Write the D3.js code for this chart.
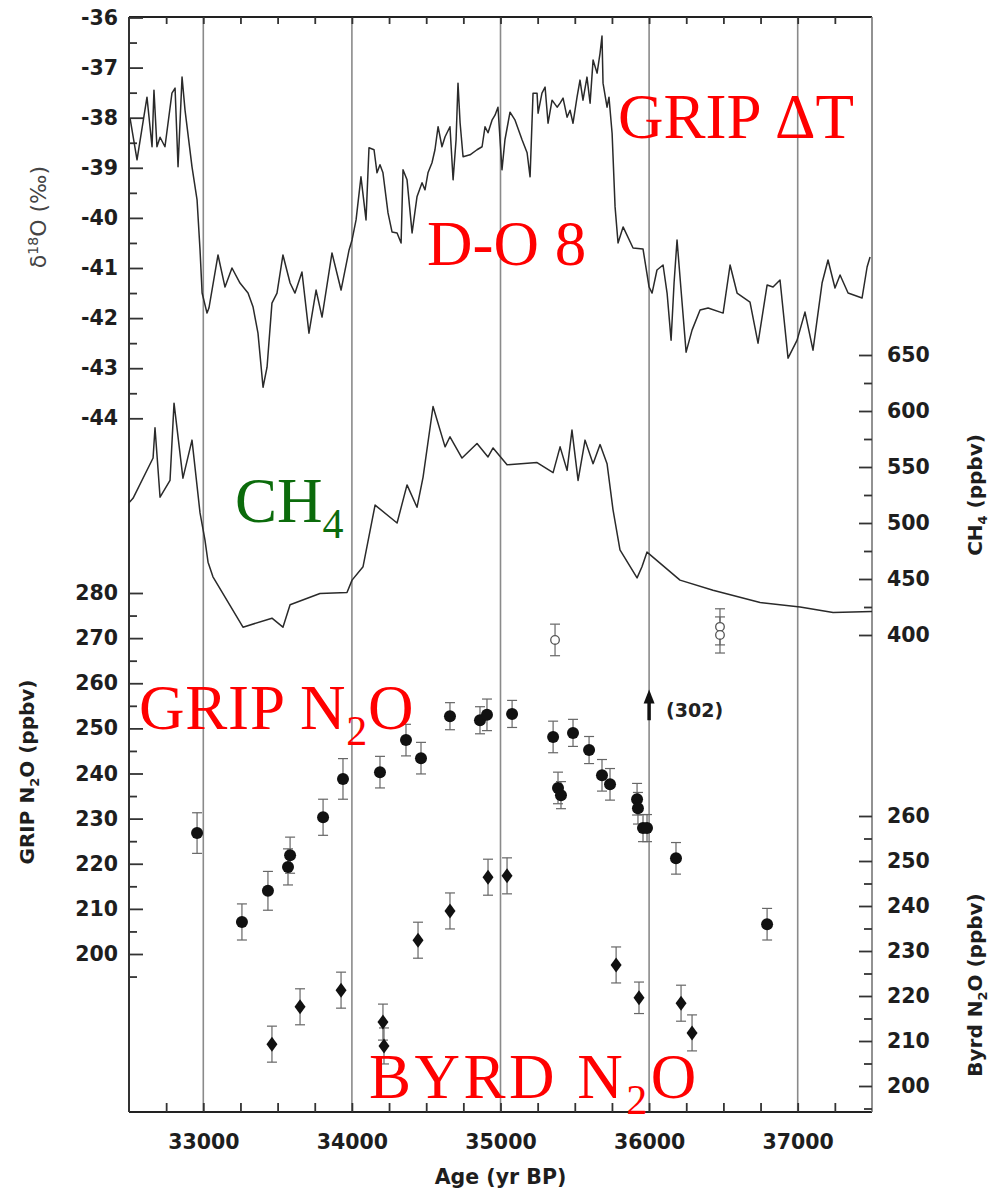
<!DOCTYPE html>
<html><head><meta charset="utf-8">
<script src="https://cdn.jsdelivr.net/npm/d3@7"></script>
<style>body{margin:0;background:#fff}svg{display:block}</style>
</head><body><svg id="c" width="991" height="1198"></svg>
<script>
// ---- data ----
const o18Age=[32507,32554,32621,32655,32668,32688,32709,32742,32789,32810,32830,32857,32877,32924,32958,32978,32992,33025,33038,33099,33146,33193,33247,33301,33335,33368,33402,33429,33462,33496,33536,33584,33617,33664,33711,33759,33799,33866,33927,33981,34001,34028,34061,34095,34115,34149,34169,34189,34209,34243,34270,34304,34331,34344,34371,34405,34438,34472,34492,34512,34539,34559,34580,34606,34627,34660,34681,34701,34714,34728,34748,34795,34842,34876,34896,34916,34943,34963,34983,35010,35030,35064,35098,35145,35179,35199,35219,35246,35253,35279,35300,35320,35347,35381,35401,35421,35448,35468,35488,35515,35535,35555,35582,35603,35623,35650,35670,35683,35690,35717,35730,35751,35771,35791,35825,35892,35959,36000,36020,36053,36094,36121,36148,36168,36188,36215,36249,36289,36343,36397,36498,36545,36592,36679,36733,36794,36834,36881,36935,36996,37049,37103,37164,37204,37251,37285,37339,37433,37467,37487];
const o18Val=[-38.01,-38.84,-37.59,-38.58,-37.45,-38.58,-38.39,-38.58,-37.51,-37.41,-38.98,-37.19,-37.85,-38.98,-39.64,-40.64,-41.50,-41.90,-41.80,-40.74,-41.38,-41.00,-41.30,-41.50,-41.78,-42.30,-43.38,-42.98,-41.70,-41.50,-40.74,-41.30,-41.50,-41.08,-42.30,-41.44,-41.98,-40.70,-41.44,-40.64,-40.44,-40.04,-39.18,-40.04,-38.60,-38.64,-39.10,-38.94,-39.10,-39.90,-40.28,-40.30,-40.50,-39.04,-39.24,-40.30,-39.58,-39.30,-39.44,-39.10,-38.90,-38.64,-38.18,-38.58,-38.38,-38.18,-39.24,-38.44,-37.31,-38.10,-38.78,-38.74,-38.64,-38.58,-38.18,-38.30,-38.05,-37.95,-37.79,-39.04,-38.44,-37.89,-38.05,-38.44,-38.70,-39.18,-37.51,-37.51,-37.91,-37.51,-37.39,-38.11,-37.65,-37.79,-37.71,-37.61,-37.99,-37.85,-38.11,-37.59,-37.25,-37.65,-37.19,-37.71,-36.85,-37.11,-36.71,-36.37,-37.31,-37.79,-37.59,-38.31,-39.78,-40.50,-40.18,-40.60,-40.62,-41.38,-41.50,-41.04,-40.94,-41.50,-42.44,-41.30,-40.44,-41.44,-42.68,-42.24,-41.84,-41.80,-41.90,-40.94,-41.50,-41.68,-42.50,-41.34,-41.38,-41.24,-42.80,-42.44,-41.88,-42.64,-41.30,-40.84,-41.40,-41.14,-41.50,-41.60,-40.98,-40.78];

const ch4Age=[32500,32527,32662,32675,32709,32776,32803,32863,32924,32978,33011,33032,33065,33267,33462,33536,33584,33785,33967,34001,34075,34156,34304,34371,34438,34479,34546,34627,34660,34741,34842,34916,34950,35044,35246,35354,35401,35448,35481,35522,35569,35623,35670,35717,35757,35804,35919,35952,35986,36208,36430,36747,37016,37238,37500];
const ch4Val=[518,522,558,585,523,538,607,540,574,509,485,465,452,407,415,407,427,437,438,449,461,516,500,534,514,541,604,568,577,558,571,559,567,552,554,545,568,547,583,538,574,553,570,553,512,476,451,461,474,449,440,429,425,420,421];

const gripAge=[32958,33260,33435,33570,33584,33806,33940,34189,34364,34465,34660,34862,34909,35078,35354,35387,35407,35488,35596,35683,35737,35919,35925,35959,35986,36181,36794];
const gripN2O=[226.8,207.1,214.0,219.3,221.9,230.3,238.8,240.3,247.4,243.4,252.7,251.8,253.0,253.2,248.1,236.8,235.2,249.0,245.2,239.6,237.6,234.3,232.3,227.9,227.9,221.2,206.6];
const gripErr=[4.5,4,4.3,4,4,4,4.5,3.5,3.5,3.5,3,3,3.5,3,3.5,3.5,3,3,3,3.5,3.5,3.5,3.5,3,3,3.5,3.5];

const openAge=[35367,36477,36477];
const openN2O=[269.6,272.5,270.7];
const openErr=[3.5,4,4];

const byrdAge=[33462,33651,33927,34209,34216,34445,34660,34916,35044,35778,35932,36215,36289];
const byrdN2O=[209.3,217.6,221.3,214.2,208.9,232.4,238.9,246.4,246.7,226.9,219.6,218.4,211.8];
const byrdErr=[4,4,4,4,4,4,4,4,4,4,3.5,4,4];

const ageTicks=[33000,34000,35000,36000,37000];
const o18Ticks=[-36,-37,-38,-39,-40,-41,-42,-43,-44];
const gripTicks=[280,270,260,250,240,230,220,210,200];
const ch4Ticks=[650,600,550,500,450,400];
const byrdTicks=[260,250,240,230,220,210,200];

// ---- scales ----
const L=129,R=872,T=17,B=1112;
const x=d3.scaleLinear().domain([32500,37500]).range([L,R]);
const yD=d3.scaleLinear().domain([-36,-44]).range([17.5,418.3]);
const yC=d3.scaleLinear().domain([650,400]).range([355,635]);
const yG=d3.scaleLinear().domain([280,200]).range([593,954]);
const yB=d3.scaleLinear().domain([260,200]).range([816,1086]);

const svg=d3.select("#c");
const FONT="'DejaVu Sans', sans-serif";
const plain=d=>String(d);

// vertical grid lines
svg.append("g").selectAll("line").data(ageTicks).join("line")
  .attr("x1",d=>x(d)).attr("x2",d=>x(d)).attr("y1",T).attr("y2",B)
  .attr("stroke","#8a8a8a").attr("stroke-width",1.6);

// frame
svg.append("line").attr("x1",L).attr("x2",R).attr("y1",T).attr("y2",T).attr("stroke","#222").attr("stroke-width",2);
svg.append("line").attr("x1",L).attr("x2",R).attr("y1",B).attr("y2",B).attr("stroke","#222").attr("stroke-width",2.2);
svg.append("line").attr("x1",L).attr("x2",L).attr("y1",T).attr("y2",B).attr("stroke","#333").attr("stroke-width",2);
svg.append("line").attr("x1",R).attr("x2",R).attr("y1",T).attr("y2",B).attr("stroke","#777").attr("stroke-width",1.6);

function styleAxis(g){
  g.select(".domain").remove();
  g.selectAll(".tick line").attr("stroke","#333").attr("stroke-width",1.8);
  g.selectAll("text").attr("font-family",FONT).attr("font-size",20.5).attr("font-weight","bold").attr("fill","#1e1e1e");
}
const range=(a,b,s)=>d3.range(a,b+s/2,s);

// bottom axis
svg.append("g").attr("transform",`translate(0,${B})`)
  .call(d3.axisBottom(x).tickValues(ageTicks).tickSize(0).tickPadding(22).tickFormat(plain))
  .call(styleAxis);
svg.append("g").attr("transform",`translate(0,${B})`)
  .call(d3.axisBottom(x).tickValues(range(32750,37250,250)).tickSize(-9).tickFormat(""))
  .call(styleAxis);
svg.append("g").attr("transform",`translate(0,${T})`)
  .call(d3.axisTop(x).tickValues(range(32750,37250,250)).tickSize(-7).tickFormat(""))
  .call(styleAxis);

// left delta axis
svg.append("g").attr("transform",`translate(${L},0)`)
  .call(d3.axisLeft(yD).tickValues(o18Ticks).tickSize(-14).tickPadding(11).tickFormat(plain))
  .call(styleAxis);
svg.append("g").attr("transform",`translate(${L},0)`)
  .call(d3.axisLeft(yD).tickValues(range(-43.5,-36.5,0.5).filter(v=>v%1!==0)).tickSize(-8).tickFormat(""))
  .call(styleAxis);
// left GRIP N2O axis
svg.append("g").attr("transform",`translate(${L},0)`)
  .call(d3.axisLeft(yG).tickValues(gripTicks).tickSize(-14).tickPadding(11).tickFormat(plain))
  .call(styleAxis);
svg.append("g").attr("transform",`translate(${L},0)`)
  .call(d3.axisLeft(yG).tickValues([275,265,255,245,235,225,215,205,195]).tickSize(-8).tickFormat(""))
  .call(styleAxis);
// right CH4 axis
svg.append("g").attr("transform",`translate(${R},0)`)
  .call(d3.axisRight(yC).tickValues(ch4Ticks).tickSize(-13).tickPadding(15).tickFormat(plain))
  .call(styleAxis);
svg.append("g").attr("transform",`translate(${R},0)`)
  .call(d3.axisRight(yC).tickValues([625,575,525,475,425]).tickSize(-8).tickFormat(""))
  .call(styleAxis);
// right Byrd axis
svg.append("g").attr("transform",`translate(${R},0)`)
  .call(d3.axisRight(yB).tickValues(byrdTicks).tickSize(-13).tickPadding(15).tickFormat(plain))
  .call(styleAxis);
svg.append("g").attr("transform",`translate(${R},0)`)
  .call(d3.axisRight(yB).tickValues([255,245,235,225,215,205,195]).tickSize(-8).tickFormat(""))
  .call(styleAxis);

// curves
const o18=o18Age.map((a,i)=>[a,o18Val[i]]);
svg.append("path").datum(o18).attr("fill","none").attr("stroke","#2a2a2a").attr("stroke-width",1.5)
  .attr("stroke-linejoin","round")
  .attr("d",d3.line().x(d=>x(d[0])).y(d=>yD(d[1])));
const ch4=ch4Age.map((a,i)=>[a,ch4Val[i]]);
svg.append("path").datum(ch4).attr("fill","none").attr("stroke","#2a2a2a").attr("stroke-width",1.5)
  .attr("stroke-linejoin","round")
  .attr("d",d3.line().x(d=>x(d[0])).y(d=>yC(d[1])));

// error bars helper
function errBars(ages,vals,errs,y){
  const g=svg.append("g").attr("stroke","#666").attr("stroke-width",1.2);
  ages.forEach((a,i)=>{
    const cx=x(a),t=y(vals[i]+errs[i]),b=y(vals[i]-errs[i]);
    g.append("line").attr("x1",cx).attr("x2",cx).attr("y1",t).attr("y2",b);
    g.append("line").attr("x1",cx-5).attr("x2",cx+5).attr("y1",t).attr("y2",t);
    g.append("line").attr("x1",cx-5).attr("x2",cx+5).attr("y1",b).attr("y2",b);
  });
}
errBars(gripAge,gripN2O,gripErr,yG);
errBars(openAge,openN2O,openErr,yG);
errBars(byrdAge,byrdN2O,byrdErr,yB);

svg.append("g").selectAll("circle").data(gripAge).join("circle")
  .attr("cx",d=>x(d)).attr("cy",(d,i)=>yG(gripN2O[i])).attr("r",6).attr("fill","#111");
svg.append("g").selectAll("circle").data(openAge).join("circle")
  .attr("cx",d=>x(d)).attr("cy",(d,i)=>yG(openN2O[i])).attr("r",4.3).attr("fill","#fff").attr("stroke","#555").attr("stroke-width",1.3);
svg.append("g").selectAll("path").data(byrdAge).join("path")
  .attr("transform",(d,i)=>`translate(${x(d)},${yB(byrdN2O[i])})`)
  .attr("d","M0,-7.5L5.5,0L0,7.5L-5.5,0Z").attr("fill","#111");

// arrow (302)
const ax=x(36000);
svg.append("line").attr("x1",ax).attr("x2",ax).attr("y1",yG(251.8)).attr("y2",yG(256.5)).attr("stroke","#111").attr("stroke-width",3.5);
svg.append("path").attr("d",`M${ax-5.5},${yG(255.5)}L${ax},${yG(258.6)}L${ax+5.5},${yG(255.5)}Z`).attr("fill","#111");
svg.append("text").attr("x",ax+17).attr("y",yG(254)+7).text("(302)")
  .attr("font-family",FONT).attr("font-size",19).attr("font-weight","bold").attr("fill","#222");

// axis titles
function vtitle(cx,cy,parts,weight,fill,size){
  const t=svg.append("text").attr("transform",`translate(${cx},${cy}) rotate(-90)`).attr("text-anchor","middle")
    .attr("font-family",FONT).attr("font-size",size||20).attr("font-weight",weight).attr("fill",fill);
  parts.forEach(p=>{
    const s=t.append("tspan").text(p[0]);
    if(p[1]==="sup") s.attr("dy",-8).attr("font-size",14);
    else if(p[1]==="sub") s.attr("dy",5).attr("font-size",13);
    else if(p[1]==="back") s.attr("dy",p[2]);
  });
}
vtitle(46,217,[["δ"],["18","sup"],["O (‰)","back",8]],"normal","#444",22);
vtitle(34,772,[["GRIP N"],["2","sub"],["O (ppbv)","back",-5]],"bold","#1e1e1e");
vtitle(982,495,[["CH"],["4","sub"],[" (ppbv)","back",-5]],"bold","#1e1e1e");
vtitle(982,985,[["Byrd N"],["2","sub"],["O (ppbv)","back",-5]],"bold","#1e1e1e");
svg.append("text").attr("x",x(35000)).attr("y",1184).attr("text-anchor","middle").text("Age (yr BP)")
  .attr("font-family",FONT).attr("font-size",20.5).attr("font-weight","bold").attr("fill","#1e1e1e");

// red / green annotations
function ann(px,py,parts,fill,ls){
  const t=svg.append("text").attr("x",px).attr("y",py).attr("font-family","'Liberation Serif', 'Times New Roman', serif")
    .attr("font-size",63).attr("fill",fill).attr("letter-spacing",ls||0);
  parts.forEach(p=>{
    const s=t.append("tspan").text(p[0]);
    if(p[1]==="sub") s.attr("dy",16).attr("font-size",42);
    else if(p[1]==="back") s.attr("dy",-16);
  });
}
ann(618,138,[["GRIP ΔT"]],"#ff0000");
ann(427,265,[["D-O 8"]],"#ff0000");
ann(235,522,[["CH"],["4","sub"]],"#0b6b0b");
ann(139,729,[["GRIP N"],["2","sub"],["O","back"]],"#ff0000",0.8);
ann(369,1098,[["BYRD N"],["2","sub"],["O","back"]],"#ff0000",3.5);
</script></body></html>
